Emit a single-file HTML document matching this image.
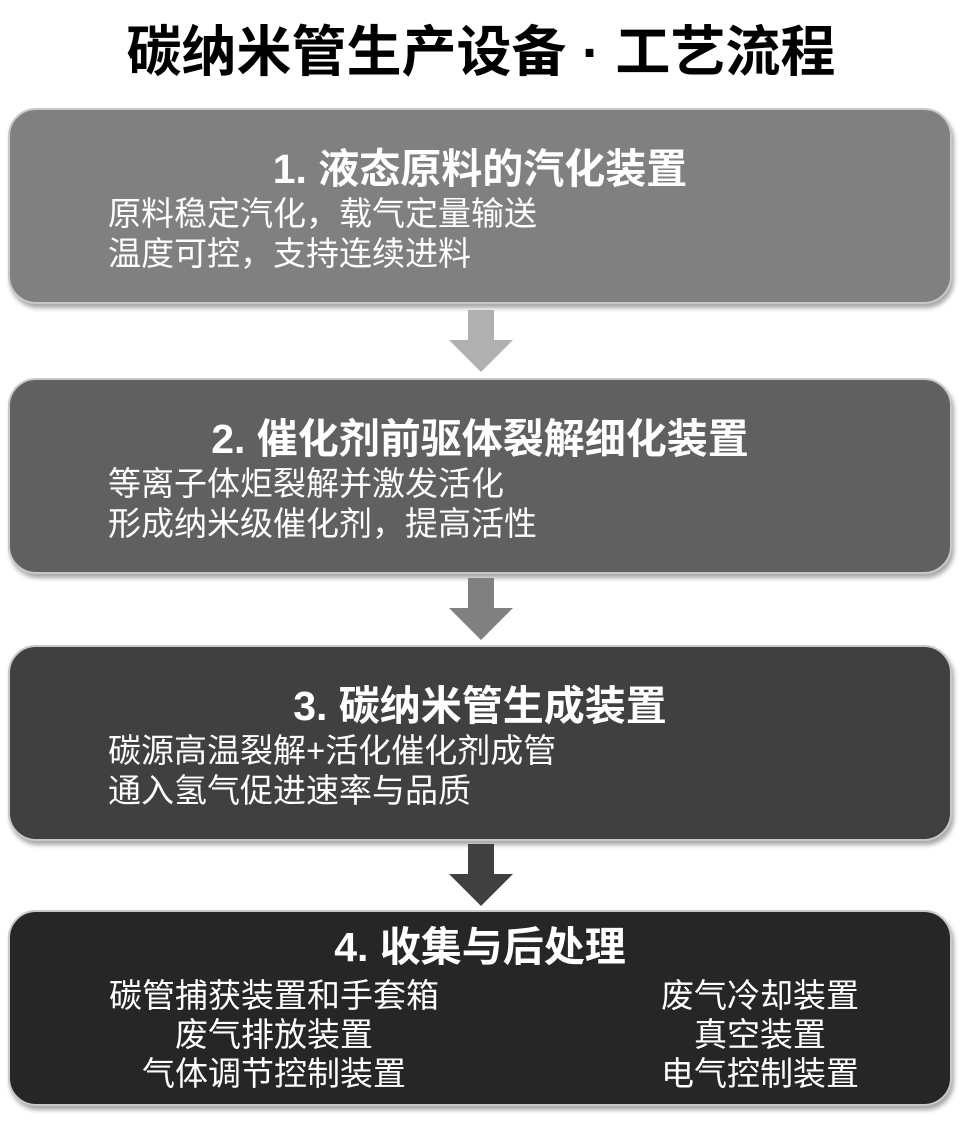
<!DOCTYPE html>
<html><head><meta charset="utf-8"><style>
body{margin:0;width:962px;height:1123px;background:#fff;position:relative;font-family:"Liberation Sans","Noto Sans CJK SC",sans-serif;overflow:hidden}
.t{position:absolute;left:0;width:962px;top:16px;text-align:center;font-size:55px;font-weight:bold;color:#000;line-height:72px}
.b{position:absolute;left:8px;width:944px;height:196px;border-radius:28px;border:2px solid #c8c8c8;box-shadow:2px 4px 5px rgba(0,0,0,.35);color:#fff;box-sizing:border-box}
.h{position:absolute;left:0;width:940px;text-align:center;top:35px;font-size:41px;font-weight:bold;line-height:48px}
.p{position:absolute;left:98px;top:84px;font-size:33px;line-height:40px;white-space:nowrap}
.c{position:absolute;top:64px;width:440px;text-align:center;font-size:33px;line-height:39px;white-space:nowrap}
.a{position:absolute;left:448px;width:66px;height:62px}
</style></head><body>
<div class="t">碳纳米管生产设备 · 工艺流程</div>
<div class="b" style="top:108px;background:#808080"><div class="h">1. 液态原料的汽化装置</div><div class="p">原料稳定汽化，载气定量输送<br>温度可控，支持连续进料</div></div>
<svg class="a" style="top:310px" viewBox="0 0 66 62"><polygon points="20,0 46,0 46,30 65,30 33,62 1,30 20,30" fill="#b0b0b0"/></svg>
<div class="b" style="top:378px;background:#606060"><div class="h">2. 催化剂前驱体裂解细化装置</div><div class="p">等离子体炬裂解并激发活化<br>形成纳米级催化剂，提高活性</div></div>
<svg class="a" style="top:578px" viewBox="0 0 66 62"><polygon points="20,0 46,0 46,30 65,30 33,62 1,30 20,30" fill="#808080"/></svg>
<div class="b" style="top:645px;background:#404040"><div class="h">3. 碳纳米管生成装置</div><div class="p">碳源高温裂解+活化催化剂成管<br>通入氢气促进速率与品质</div></div>
<svg class="a" style="top:844px" viewBox="0 0 66 62"><polygon points="20,0 46,0 46,30 65,30 33,62 1,30 20,30" fill="#404040"/></svg>
<div class="b" style="top:910px;background:#262626"><div class="h" style="top:11px">4. 收集与后处理</div>
<div class="c" style="left:44px">碳管捕获装置和手套箱<br>废气排放装置<br>气体调节控制装置</div>
<div class="c" style="left:530px">废气冷却装置<br>真空装置<br>电气控制装置</div></div>
</body></html>
